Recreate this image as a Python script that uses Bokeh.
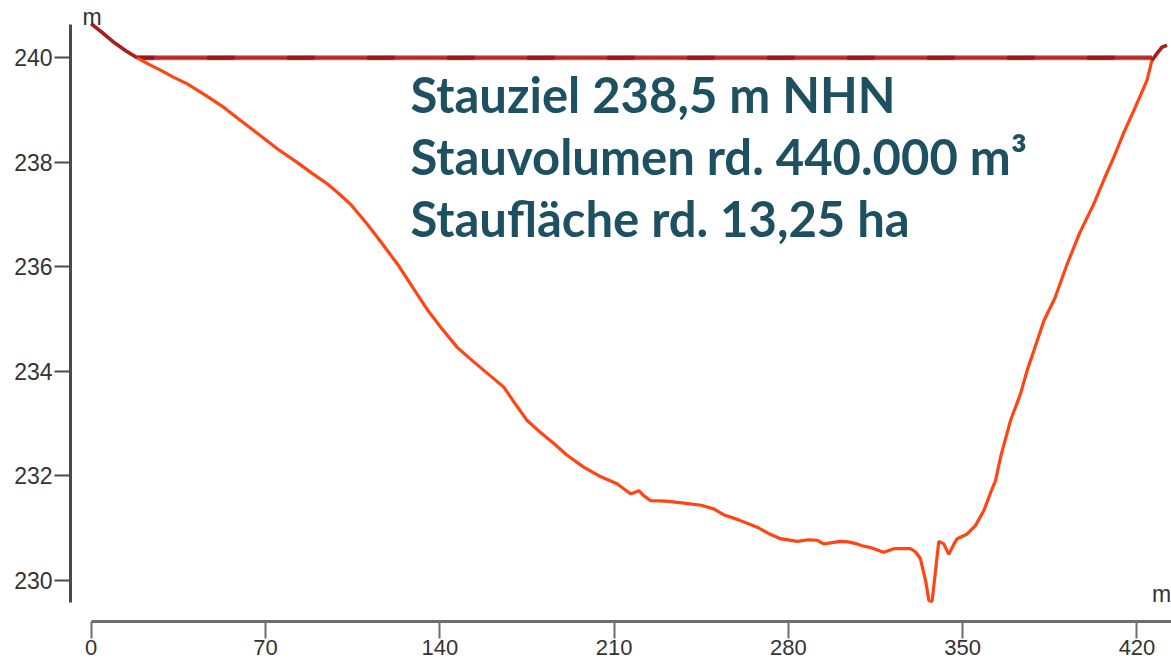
import numpy as np
from bokeh.plotting import figure
from bokeh.models import Range1d, LinearAxis, FixedTicker, Label
from bokeh.embed import file_html
from bokeh.resources import INLINE

# ---- data -------------------------------------------------------------
station = [0, 4, 9, 14, 18.5, 23, 28, 33, 38.6, 46, 53.3, 60, 68, 75, 82.7, 89, 94.8,
           100, 104.5, 110.8, 116, 122.9, 130.9, 135, 140.3, 147, 152, 157.7, 165.7,
           170, 175.1, 180, 185.8, 191, 197.8, 204, 211.2, 214, 216.6, 218, 219.9,
           222, 224.6, 231, 238, 245, 250, 254, 260, 267.5, 272, 276.8, 283.5, 288,
           291.6, 294.2, 300.9, 304, 307.6, 310, 313, 316, 318.3, 322.3, 329, 331,
           333, 335.1, 336.4, 337.7, 339.1, 340.4, 342.4, 344.4, 346.5, 347.8, 351.8,
           355.1, 358.5, 361.2, 363.2, 365.2, 369.2, 373.2, 375.9, 378.6, 382.6, 387,
           392, 397, 402.7, 407, 410.7, 415, 418.7, 422, 424, 426, 428, 430, 432]
elevation = [240.65, 240.50, 240.30, 240.13, 240.00, 239.88, 239.76, 239.63, 239.50,
             239.28, 239.05, 238.80, 238.51, 238.25, 238.00, 237.78, 237.59, 237.38,
             237.18, 236.82, 236.50, 236.06, 235.48, 235.18, 234.85, 234.46, 234.25,
             234.02, 233.70, 233.40, 233.06, 232.85, 232.62, 232.40, 232.17, 232.00,
             231.85, 231.75, 231.66, 231.68, 231.72, 231.62, 231.53, 231.52, 231.48,
             231.44, 231.37, 231.26, 231.16, 231.02, 230.90, 230.80, 230.75, 230.78,
             230.77, 230.70, 230.75, 230.74, 230.70, 230.66, 230.63, 230.58, 230.54,
             230.61, 230.61, 230.55, 230.42, 230.00, 229.62, 229.60, 230.19, 230.75,
             230.70, 230.50, 230.70, 230.80, 230.89, 231.05, 231.34, 231.68, 231.91,
             232.36, 233.06, 233.57, 234.02, 234.40, 234.97, 235.40, 236.06, 236.65,
             237.21, 237.70, 238.10, 238.60, 238.99, 239.35, 239.57, 239.95, 240.08,
             240.20, 240.24]
level_x = [18.5, 426]
level_y = [240.0, 240.0]
x_ticks = [0, 70, 140, 210, 280, 350, 420]
y_ticks = [230, 232, 234, 236, 238, 240]
info_lines = ["Stauziel 238,5 m NHN",
              "Stauvolumen rd. 440.000 m³",
              "Staufläche rd. 13,25 ha"]
unit_label = "m"

# ---- figure -----------------------------------------------------------
p = figure(width=1171, height=664, output_backend="svg", toolbar_location=None,
           x_range=Range1d(-8.313, 433.86), y_range=Range1d(229.216, 241.096),
           min_border_left=70, min_border_right=0, min_border_top=0,
           min_border_bottom=43, x_axis_type=None, y_axis_type=None,
           background_fill_color="white", border_fill_color="white")
p.outline_line_color = None

font = "Liberation Sans"
yaxis = LinearAxis(ticker=FixedTicker(ticks=y_ticks), bounds=(229.585, 240.637))
yaxis.axis_line_color = "#4a4a4a"
yaxis.axis_line_width = 3
yaxis.major_tick_line_color = "#4a4a4a"
yaxis.major_tick_line_width = 2
yaxis.major_tick_out = 16
yaxis.major_tick_in = 0
yaxis.minor_tick_out = 0
yaxis.minor_tick_in = 0
yaxis.major_label_standoff = 2
yaxis.major_label_text_font = font
yaxis.major_label_text_font_size = "23px"
yaxis.major_label_text_color = "#333333"
p.add_layout(yaxis, "left")

xaxis = LinearAxis(ticker=FixedTicker(ticks=x_ticks), bounds=(0, 440))
xaxis.axis_line_color = "#6e6e6e"
xaxis.axis_line_width = 3
xaxis.major_tick_line_color = "#6e6e6e"
xaxis.major_tick_line_width = 2
xaxis.major_tick_out = 17
xaxis.major_tick_in = 0
xaxis.minor_tick_out = 0
xaxis.minor_tick_in = 0
xaxis.major_label_standoff = 1
xaxis.major_label_text_font = font
xaxis.major_label_text_font_size = "22px"
xaxis.major_label_text_color = "#333333"
p.add_layout(xaxis, "below")

# level line (double look)
p.line(level_x, level_y, line_color="#cf6a5c", line_width=5)
p.line(level_x, level_y, line_color="#b02a2a", line_width=3)
p.line(level_x, level_y, line_color="#96181c", line_width=4, line_dash="27 53",
       line_dash_offset=10)

# terrain profile
sx = np.array(station)
sy = np.array(elevation)
p.line(sx, sy, line_color="#ff4513", line_width=3.2)
left_mask = sx <= 18.5
right_mask = sx >= 426
p.line(sx[left_mask], sy[left_mask], line_color="#a81f1f", line_width=3.5)
p.line(sx[right_mask], sy[right_mask], line_color="#a81f1f", line_width=3.5)

# unit labels
p.add_layout(Label(x=-3.5, y=240.771, text=unit_label, text_baseline="alphabetic",
                   text_font=font, text_font_size="23px", text_color="#333333"))
p.add_layout(Label(x=433.7, y=229.75, text=unit_label, text_baseline="alphabetic",
                   text_align="right", text_font=font, text_font_size="23px",
                   text_color="#333333"))

# info text
for line, ypos in zip(info_lines, [239.309, 238.123, 236.937]):
    p.add_layout(Label(x=128.2, y=ypos, text=line, text_baseline="alphabetic",
                       text_font="Lato", text_font_style="bold",
                       text_font_size="49px", text_color="#1d5061"))

open("out.html", "w").write(file_html(p, INLINE))
